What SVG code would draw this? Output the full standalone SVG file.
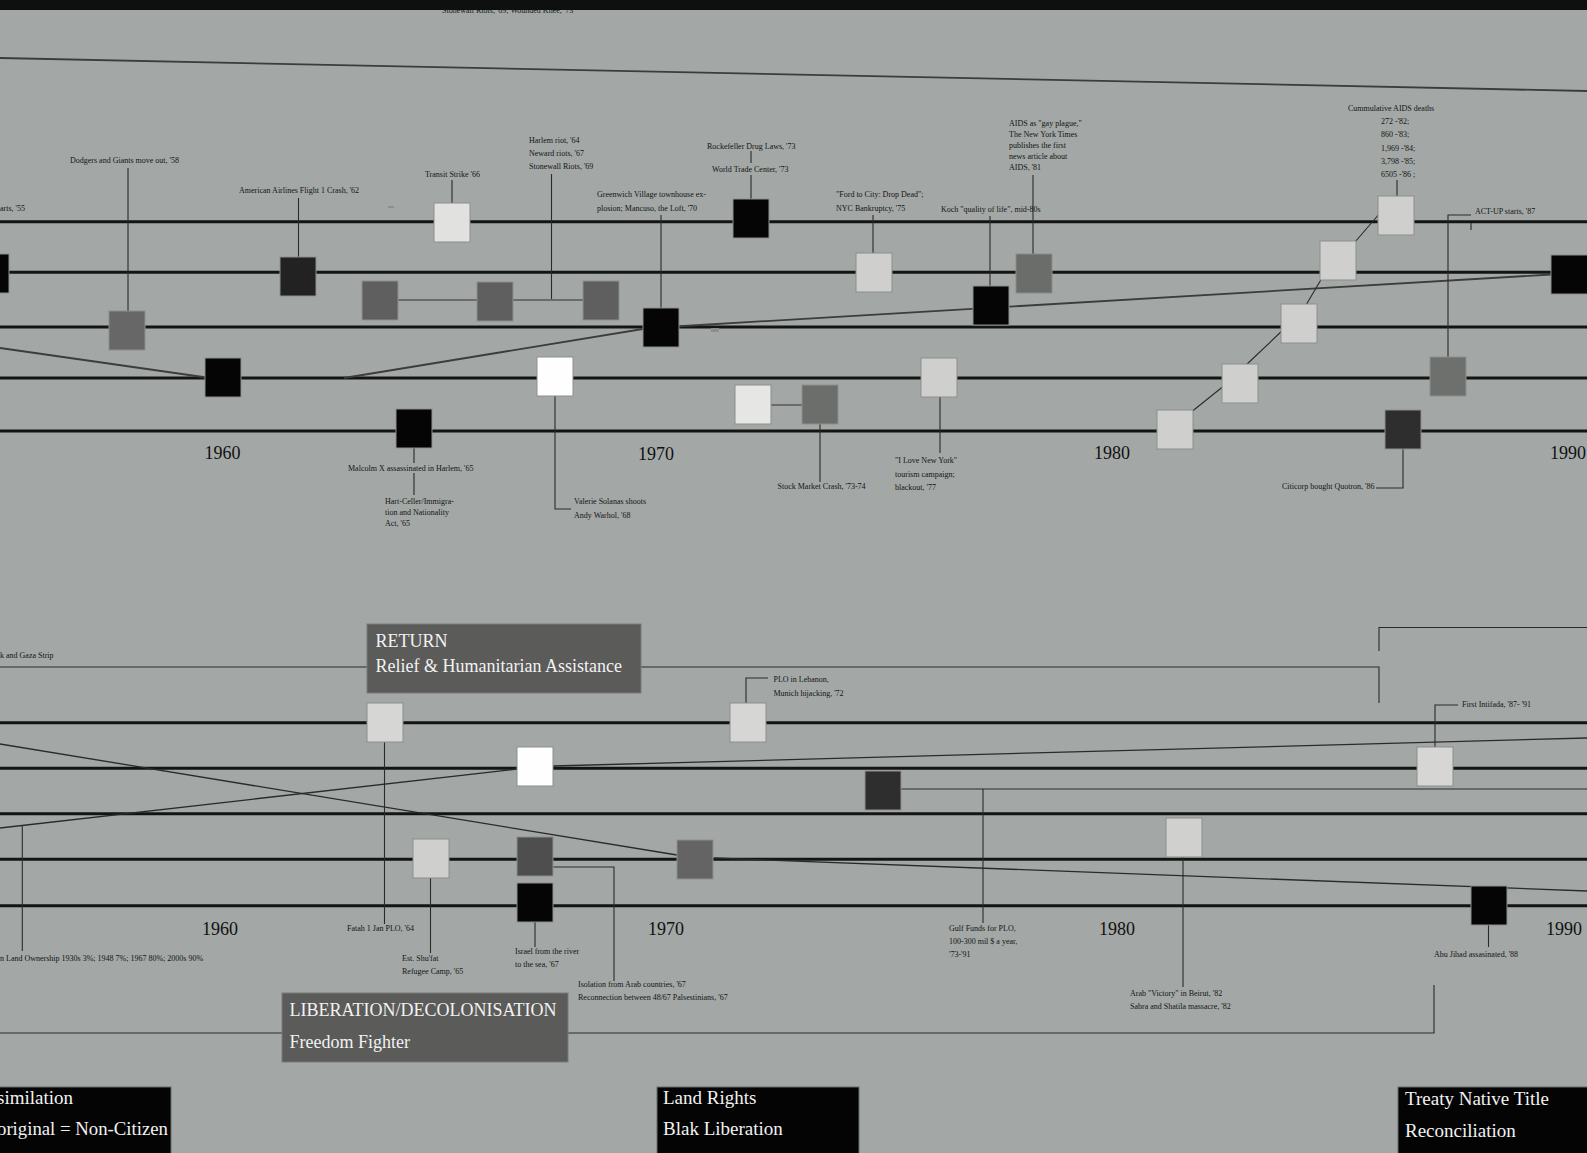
<svg xmlns="http://www.w3.org/2000/svg" width="1587" height="1153" viewBox="0 0 1587 1153">
<style>
.tl{stroke:#141414;stroke-width:3;fill:none}
.cn{stroke:#2a2a2a;stroke-width:1.1;fill:none}
.dg{stroke:#3c3c3c;stroke-width:1.8;fill:none}
.dl{stroke:#2a2a2a;stroke-width:1.3;fill:none}
.bx{stroke:#8c8e8c;stroke-width:1}
.t{font-family:"Liberation Serif",serif;font-size:8px;fill:#141414}
.yr{font-family:"Liberation Serif",serif;font-size:18px;fill:#111}
.big{font-family:"Liberation Serif",serif;font-size:18px;fill:#f2f2f2}
.bot{font-family:"Liberation Serif",serif;font-size:19px;fill:#f2f2f2}
.gbox{fill:#5b5b5a;stroke:#7a7a7a;stroke-width:1}
.kbox{fill:#040404;stroke:#6a6a6a;stroke-width:1}
</style>
<rect x="0" y="0" width="1587" height="1153" fill="#a3a8a6"/>
<text class="t" x="442" y="13">Stonewall Riots, '69; Wounded Knee, '73</text>
<rect x="0" y="0" width="1587" height="10" fill="#0e1010"/>

<g id="timelines">
<line class="tl" x1="0" y1="221.7" x2="1587" y2="221.7"/>
<line class="tl" x1="0" y1="272.3" x2="1587" y2="272.3"/>
<line class="tl" x1="0" y1="327" x2="1587" y2="327"/>
<line class="tl" x1="0" y1="378" x2="1587" y2="378"/>
<line class="tl" x1="0" y1="431" x2="1587" y2="431"/>
<line class="tl" x1="0" y1="722.7" x2="1587" y2="722.7"/>
<line class="tl" x1="0" y1="768.2" x2="1587" y2="768.2"/>
<line class="tl" x1="0" y1="813.7" x2="1587" y2="813.7"/>
<line class="tl" x1="0" y1="859.3" x2="1587" y2="859.3"/>
<line class="tl" x1="0" y1="905.8" x2="1587" y2="905.8"/>
</g>

<g id="years">
<text class="yr" x="204.5" y="459">1960</text>
<text class="yr" x="638" y="460">1970</text>
<text class="yr" x="1094" y="459">1980</text>
<text class="yr" x="1550" y="459">1990</text>
<text class="yr" x="202" y="935">1960</text>
<text class="yr" x="648" y="935">1970</text>
<text class="yr" x="1099" y="935">1980</text>
<text class="yr" x="1546" y="935">1990</text>
</g>

<g id="connectors">
<line class="dg" x1="0" y1="58" x2="1587" y2="91"/>
<line class="dg" x1="0" y1="348" x2="210" y2="378"/>
<line class="dg" x1="344" y1="378" x2="655" y2="327"/>
<line class="dg" x1="675" y1="326.5" x2="1560" y2="274"/>
<path class="cn" d="M128 168V311"/>
<path class="cn" d="M298.5 198V257"/>
<path class="cn" d="M452 180V203"/>
<path class="cn" d="M551.5 174V300"/>
<line x1="398" y1="300" x2="583" y2="300" stroke="#6b6b6b" stroke-width="2"/>
<path class="cn" d="M751 151V163M751 175V199"/>
<path class="cn" d="M661 215V308"/>
<path class="cn" d="M873 215V253"/>
<path class="cn" d="M990 216V286"/>
<path class="cn" d="M1033 175V254"/>
<path class="cn" d="M1397 180V196"/>
<path class="cn" d="M1471 215H1448V357M1471 223V230"/>
<path class="cn" d="M414 448V463M414 473V495"/>
<path class="cn" d="M555 396V509H571"/>
<path class="cn" d="M820 424V482"/>
<line x1="770" y1="405" x2="802" y2="405" stroke="#6b6b6b" stroke-width="2"/>
<path class="cn" d="M940 397V453"/>
<path class="cn" d="M1403 449V488H1376"/>
<path class="cn" d="M1190 413L1225 385M1245 366L1284 329M1306 305L1322 278M1355 242L1380 213"/>
<line x1="388" y1="207" x2="394" y2="207" stroke="#777" stroke-width="1"/>
<rect x="711" y="328" width="8" height="4" fill="#8d8f8d"/>

<line class="dl" x1="0" y1="744" x2="677" y2="855"/>
<line class="dl" x1="714" y1="858" x2="1587" y2="891"/>
<line class="dl" x1="0" y1="828" x2="517" y2="769"/>
<line class="dl" x1="553" y1="766" x2="1587" y2="738"/>
<path class="cn" d="M0 667H367M640 667H1379V703"/>
<path class="cn" d="M1587 627.5H1379V651"/>
<path class="cn" d="M768 678H746V703"/>
<path class="cn" d="M1458 705H1435V747"/>
<path class="cn" d="M901 789H1587M983 789V923"/>
<path class="cn" d="M1183 856V987"/>
<path class="cn" d="M384.5 742V924"/>
<path class="cn" d="M430.5 878V953"/>
<path class="cn" d="M535 922V947"/>
<path class="cn" d="M553 867H614V981"/>
<path class="cn" d="M1488.5 925V947"/>
<path class="cn" d="M0 1033H282M568 1033H1434V985"/>
<path class="cn" d="M22.3 826V951"/>
</g>

<g id="n-left-edge"><rect class="bx" x="-27" y="254" width="36" height="39" fill="#050505"/><text class="t" x="0" y="211">arts, '55</text></g>
<g id="n-dodgers"><rect class="bx" x="109" y="311" width="36" height="39" fill="#666766"/><text class="t" x="70" y="163">Dodgers and Giants move out, '58</text></g>
<g id="n-u7"><rect class="bx" x="205" y="358" width="36" height="39" fill="#050505"/></g>
<g id="n-aa"><rect class="bx" x="280" y="257" width="36" height="39" fill="#222"/><text class="t" x="239" y="193">American Airlines Flight 1 Crash, '62</text></g>
<g id="n-harlem">
<rect class="bx" x="362" y="281" width="36" height="39" fill="#5f5f5f"/>
<rect class="bx" x="477" y="282" width="36" height="39" fill="#5f5f5f"/>
<rect class="bx" x="583" y="281" width="36" height="39" fill="#5f5f5f"/>
<text class="t" x="529" y="143">Harlem riot, '64</text>
<text class="t" x="529" y="156">Neward riots, '67</text>
<text class="t" x="529" y="169">Stonewall Riots, '69</text>
</g>
<g id="n-transit"><rect class="bx" x="434" y="203" width="36" height="39" fill="#e1e2df"/><text class="t" x="425" y="177">Transit Strike '66</text></g>
<g id="n-malcolm"><rect class="bx" x="396" y="409" width="36" height="39" fill="#050505"/>
<text class="t" x="348" y="471">Malcolm X assassinated in Harlem, '65</text>
<text class="t" x="385" y="504">Hart-Celler/Immigra-</text>
<text class="t" x="385" y="515">tion and Nationality</text>
<text class="t" x="385" y="526">Act, '65</text></g>
<g id="n-valerie"><rect class="bx" x="537" y="357" width="36" height="39" fill="#fefefe"/>
<text class="t" x="574" y="504">Valerie Solanas shoots</text>
<text class="t" x="574" y="518">Andy Warhol, '68</text></g>
<g id="n-greenwich"><rect class="bx" x="643" y="308" width="36" height="39" fill="#050505"/>
<text class="t" x="597" y="197">Greenwich Village townhouse ex-</text>
<text class="t" x="597" y="211">plosion; Mancuso, the Loft, '70</text></g>
<g id="n-rockefeller"><rect class="bx" x="733" y="199" width="36" height="39" fill="#050505"/>
<text class="t" x="707" y="149">Rockefeller Drug Laws, '73</text>
<text class="t" x="712" y="172">World Trade Center, '73</text></g>
<g id="n-stock"><rect class="bx" x="735" y="385" width="36" height="39" fill="#e6e7e4"/>
<rect class="bx" x="802" y="385" width="36" height="39" fill="#6c6e6b"/>
<text class="t" x="777.5" y="489">Stock Market Crash, '73-74</text></g>
<g id="n-ford"><rect class="bx" x="856" y="253" width="36" height="39" fill="#cfd0cd"/>
<text class="t" x="836" y="197">"Ford to City: Drop Dead";</text>
<text class="t" x="836" y="211">NYC Bankruptcy, '75</text></g>
<g id="n-ilny"><rect class="bx" x="921" y="358" width="36" height="39" fill="#cfd0cd"/>
<text class="t" x="895" y="463">"I Love New York"</text>
<text class="t" x="895" y="477">tourism campaign;</text>
<text class="t" x="895" y="490">blackout, '77</text></g>
<g id="n-koch"><rect class="bx" x="973" y="286" width="36" height="39" fill="#050505"/>
<text class="t" x="941" y="212">Koch "quality of life", mid-80s</text></g>
<g id="n-aids"><rect class="bx" x="1016" y="254" width="36" height="39" fill="#6b6d6a"/>
<text class="t" x="1009" y="126">AIDS as "gay plague,"</text>
<text class="t" x="1009" y="137">The New York Times</text>
<text class="t" x="1009" y="148">publishes the first</text>
<text class="t" x="1009" y="159">news article about</text>
<text class="t" x="1009" y="170">AIDS, '81</text></g>
<g id="n-chain">
<rect class="bx" x="1157" y="410" width="36" height="39" fill="#cfd0cd"/>
<rect class="bx" x="1222" y="364" width="36" height="39" fill="#cfd0cd"/>
<rect class="bx" x="1281" y="304" width="36" height="39" fill="#cfd0cd"/>
<rect class="bx" x="1320" y="241" width="36" height="39" fill="#cfd0cd"/>
</g>
<g id="n-cumulative"><rect class="bx" x="1378" y="196" width="36" height="39" fill="#cfd0cd"/>
<text class="t" x="1348" y="111">Cummulative AIDS deaths</text>
<text class="t" x="1381" y="124">272 -'82;</text>
<text class="t" x="1381" y="137">860 -'83;</text>
<text class="t" x="1381" y="151">1,969 -'84;</text>
<text class="t" x="1381" y="164">3,798 -'85;</text>
<text class="t" x="1381" y="177">6505 -'86 ;</text></g>
<g id="n-citicorp"><rect class="bx" x="1385" y="410" width="36" height="39" fill="#2e2e2e"/>
<text class="t" x="1282" y="489">Citicorp bought Quotron, '86</text></g>
<g id="n-actup"><rect class="bx" x="1430" y="357" width="36" height="39" fill="#6e706d"/>
<text class="t" x="1475" y="214">ACT-UP starts, '87</text></g>
<g id="n-right-edge"><rect class="bx" x="1551" y="255" width="38" height="39" fill="#050505"/></g>

<g id="n-return"><rect class="gbox" x="367" y="624" width="274" height="69"/>
<text class="big" x="375.5" y="647">RETURN</text>
<text class="big" x="375.5" y="672">Relief &amp; Humanitarian Assistance</text></g>
<text class="t" x="0" y="658">k and Gaza Strip</text>
<g id="n-fatah"><rect class="bx" x="367" y="703" width="36" height="39" fill="#d6d7d4"/>
<text class="t" x="347" y="931">Fatah 1 Jan PLO, '64</text></g>
<g id="n-plo-lebanon"><rect class="bx" x="730" y="703" width="36" height="39" fill="#d6d7d4"/>
<text class="t" x="773.5" y="682">PLO in Lebanon,</text>
<text class="t" x="773.5" y="696">Munich hijacking, '72</text></g>
<g id="n-white"><rect class="bx" x="517" y="747" width="36" height="39" fill="#fefefe"/></g>
<g id="n-gulf"><rect class="bx" x="865" y="771" width="36" height="39" fill="#2e2e2e"/>
<text class="t" x="949" y="931">Gulf Funds for PLO,</text>
<text class="t" x="949" y="944">100-300 mil $ a year,</text>
<text class="t" x="949" y="957">'73-'91</text></g>
<g id="n-beirut"><rect class="bx" x="1166" y="818" width="36" height="39" fill="#d0d1ce"/>
<text class="t" x="1130" y="996">Arab "Victory" in Beirut, '82</text>
<text class="t" x="1130" y="1009">Sabra and Shatila massacre, '82</text></g>
<g id="n-intifada"><rect class="bx" x="1417" y="747" width="36" height="39" fill="#d6d7d4"/>
<text class="t" x="1462" y="707">First Intifada, '87- '91</text></g>
<g id="n-shufat"><rect class="bx" x="413" y="839" width="36" height="39" fill="#cfd0cd"/>
<text class="t" x="402" y="961">Est. Shu'fat</text>
<text class="t" x="402" y="974">Refugee Camp, '65</text></g>
<g id="n-isolation"><rect class="bx" x="517" y="837" width="36" height="39" fill="#4e4e4e"/>
<text class="t" x="578" y="987">Isolation from Arab countries, '67</text>
<text class="t" x="578" y="1000">Reconnection between 48/67 Palsestinians, '67</text></g>
<g id="n-israel"><rect class="bx" x="517" y="883" width="36" height="39" fill="#050505"/>
<text class="t" x="515" y="954">Israel from the river</text>
<text class="t" x="515" y="967">to the sea,  '67</text></g>
<g id="n-gray"><rect class="bx" x="677" y="840" width="36" height="39" fill="#646464"/></g>
<g id="n-abujihad"><rect class="bx" x="1471" y="886" width="36" height="39" fill="#050505"/>
<text class="t" x="1434" y="957">Abu Jihad assasinated, '88</text></g>
<g id="n-land"><text class="t" x="0" y="961">n Land Ownership 1930s 3%; 1948 7%; 1967 80%; 2000s 90%</text></g>
<g id="n-liberation"><rect class="gbox" x="282" y="993" width="286" height="69"/>
<text class="big" x="289.5" y="1016">LIBERATION/DECOLONISATION</text>
<text class="big" x="289.5" y="1048">Freedom Fighter</text></g>

<g id="n-assimilation"><rect class="kbox" x="-2" y="1087" width="173" height="70"/>
<text class="bot" x="-3" y="1104">similation</text>
<text class="bot" x="-3" y="1135" textLength="171" lengthAdjust="spacingAndGlyphs">original = Non-Citizen</text></g>
<g id="n-landrights"><rect class="kbox" x="657" y="1087" width="202" height="70"/>
<text class="bot" x="663" y="1104">Land Rights</text>
<text class="bot" x="663" y="1135">Blak Liberation</text></g>
<g id="n-treaty"><rect class="kbox" x="1398" y="1087" width="191" height="70"/>
<text class="bot" x="1405" y="1105">Treaty Native Title</text>
<text class="bot" x="1405" y="1137">Reconciliation</text></g>
</svg>
